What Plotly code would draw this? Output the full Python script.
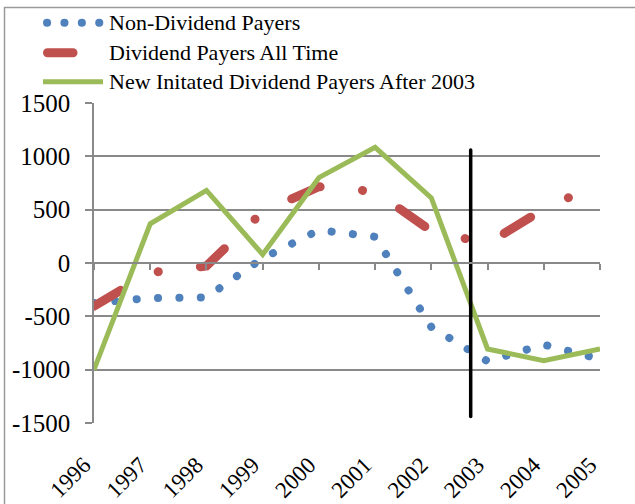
import plotly.graph_objects as go

# ---- data ----
years = [1996, 1997, 1998, 1999, 2000, 2001, 2002, 2003, 2004, 2005]
year_labels = [str(y) for y in years]
non_dividend = [-375, -328, -322, 45, 308, 246, -600, -921, -765, -900]
dividend_all_time = [-405, -90, -28, 480, 715, 670, 300, 182, 505, 750]
new_initiated = [-1000, 368, 680, 80, 800, 1085, 610, -806, -916, -806]
cutoff_x = [2002.7, 2002.7]
cutoff_y = [-1440, 1060]
y_ticks = [-1500, -1000, -500, 0, 500, 1000, 1500]
y_tick_labels = [str(v) for v in y_ticks]
series_names = ["Non-Dividend Payers", "Dividend Payers All Time",
                "New Initated Dividend Payers After 2003"]

BLUE = "#4F81BD"
RED = "#C0504D"
GREEN = "#9BBB59"
GRID = "#898989"
FONT = "Liberation Serif, Times New Roman, serif"

fig = go.Figure()
fig.add_trace(go.Scatter(x=years, y=non_dividend, mode="lines", name=series_names[0],
                         line=dict(color=BLUE, width=8, dash="0.1px,21.3px")))
fig.add_trace(go.Scatter(x=years, y=dividend_all_time, mode="lines", name=series_names[1],
                         line=dict(color=RED, width=9, dash="31px,42.5px,0.1px,42.4px")))
fig.add_trace(go.Scatter(x=years, y=new_initiated, mode="lines", name=series_names[2],
                         line=dict(color=GREEN, width=5)))
fig.add_trace(go.Scatter(x=cutoff_x, y=cutoff_y, mode="lines", xaxis="x2", showlegend=False,
                         line=dict(color="black", width=3.5)))

# custom legend (long symbols like the reference)
legend_rows = [80.3, 50.3, 21.3]
shapes = [
    dict(type="line", xref="paper", yref="paper", xsizemode="pixel", ysizemode="pixel",
         xanchor=0, yanchor=1, x0=-47, x1=5.5, y0=legend_rows[0], y1=legend_rows[0],
         line=dict(color=BLUE, width=8, dash="0.1px,17.3px")),
    dict(type="line", xref="paper", yref="paper", xsizemode="pixel", ysizemode="pixel",
         xanchor=0, yanchor=1, x0=-46.5, x1=-21, y0=legend_rows[1], y1=legend_rows[1],
         line=dict(color=RED, width=9)),
    dict(type="line", xref="paper", yref="paper", xsizemode="pixel", ysizemode="pixel",
         xanchor=0, yanchor=1, x0=-51, x1=9, y0=legend_rows[2], y1=legend_rows[2],
         line=dict(color=GREEN, width=5)),
    dict(type="rect", xref="paper", yref="paper", xsizemode="pixel", ysizemode="pixel",
         xanchor=0, yanchor=1, x0=-89.5, x1=700, y0=95.5, y1=-600,
         line=dict(color="#9a9a9a", width=1.5)),
]
annotations = [
    dict(text=name, xref="paper", yref="paper", x=0, y=1, xanchor="left", yanchor="middle",
         xshift=13, yshift=row, showarrow=False, font=dict(family=FONT, size=22, color="black"))
    for name, row in zip(series_names, legend_rows)
]

fig.update_layout(
    template="none",
    width=635, height=504,
    margin=dict(l=94, r=35, t=103, b=81, autoexpand=False),
    paper_bgcolor="white", plot_bgcolor="white",
    showlegend=False,
    shapes=shapes, annotations=annotations,
    xaxis=dict(range=[1996, 2005], tickvals=years, ticktext=year_labels, tickangle=-45,
               showline=False, ticks="", showgrid=False, zeroline=False, automargin=False,
               tickfont=dict(family=FONT, size=23, color="black"),
               ticklabelstandoff=23, ticklabelshift=-10),
    xaxis2=dict(range=[1996, 2005], overlaying="x", anchor="free", position=0.5,
                tickvals=years, showticklabels=False, showline=True, linecolor=GRID,
                linewidth=1.5, ticks="outside", ticklen=6, tickcolor=GRID, tickwidth=1.5,
                showgrid=False, zeroline=False, automargin=False),
    yaxis=dict(range=[-1500, 1500], tickvals=y_ticks, ticktext=y_tick_labels,
               showgrid=True, gridcolor=GRID, automargin=False,
               gridwidth=1.5, showline=True, linecolor=GRID, linewidth=1.5,
               ticks="outside", ticklen=7, tickcolor=GRID, tickwidth=1.5, zeroline=False,
               tickfont=dict(family=FONT, size=25, color="black"), ticklabelstandoff=10),
)

css = ("html,body{margin:0;padding:0;}"
       "g.subplot.xy .scatterlayer .trace:nth-of-type(1) path.js-line,"
       "g.subplot.xy .scatterlayer .trace:nth-of-type(2) path.js-line,"
       ".shapelayer path[data-index='0'], .shapelayer path[data-index='1']"
       "{stroke-linecap: round !important;}")
post = ("var s=document.createElement('style');s.textContent=\"" + css +
        "\";document.head.appendChild(s);")
fig.write_html("out.html", post_script=post, config={"displayModeBar": False})
